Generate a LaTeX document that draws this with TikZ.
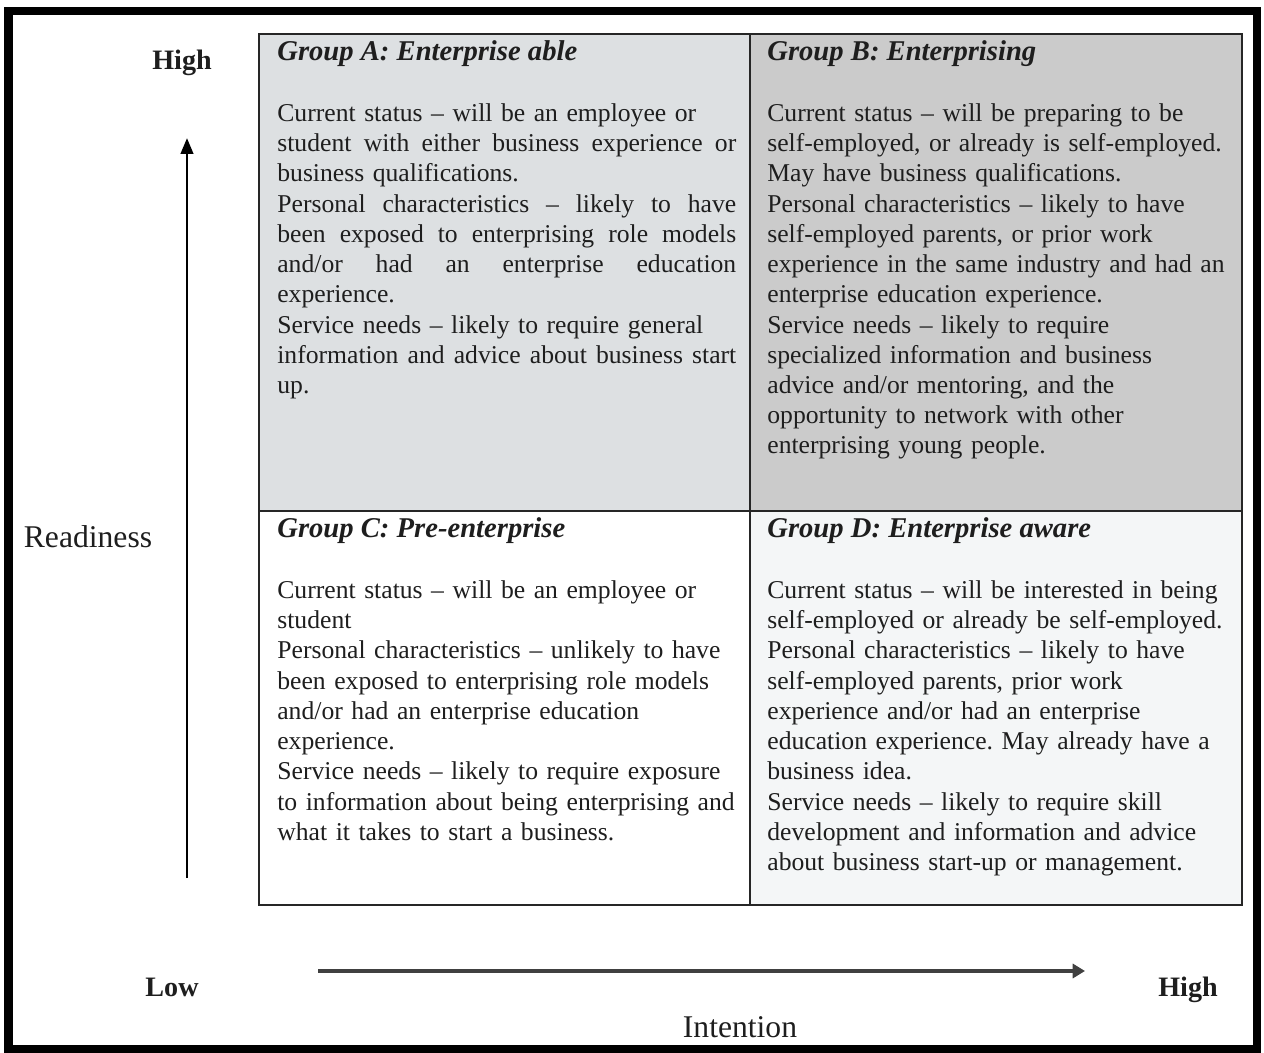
\documentclass[tikz,border=0pt]{standalone}
\usepackage{fontspec}
\setmainfont{Liberation Serif}
\usetikzlibrary{arrows.meta}
\definecolor{fillA}{RGB}{221,224,226}
\definecolor{fillB}{RGB}{203,203,203}
\definecolor{fillD}{RGB}{244,246,247}
\definecolor{ink}{RGB}{30,30,30}
\newcommand{\jline}[1]{\leavevmode\hbox to 9.18cm{\spaceskip=0.25em plus 3em\relax #1}}
\frenchspacing

\begin{document}
\begin{tikzpicture}[x=0.02cm, y=-0.02cm, text=ink]
            \tikzstyle{title} = [anchor=base west, inner sep=0pt, font=\fontsize{16.3}{19}\selectfont\bfseries\itshape]
            \tikzstyle{body} = [anchor=base west, inner sep=0pt, text width=10.5cm, align=left, font=\fontsize{14.6}{17.2}\selectfont\frenchspacing]
            \tikzstyle{axis} = [inner sep=0pt, font=\fontsize{18}{20}\selectfont]
            \tikzstyle{level} = [anchor=base, inner sep=0pt, font=\fontsize{16}{19}\selectfont\bfseries]

            \useasboundingbox (0,0) rectangle (1264,1053);

            \fill[fillA] (259,34) rectangle (750,511);
            \fill[fillB] (750,34) rectangle (1242,511);
            \fill[fillD] (750,511) rectangle (1242,905);
            \draw[line width=0.9pt, black!85] (259,34) rectangle (1242,905);
            \draw[line width=0.9pt, black!85] (750,34) -- (750,905);
            \draw[line width=1.1pt, black!85] (259,511) -- (1242,511);
            \draw[line width=4.8pt] (8.5,11) rectangle (1257,1049);

            \node[title] (ta) at (277,61) {Group A: Enterprise able};
            \node[title] (tb) at (767,61) {Group B: Enterprising};
            \node[title] (tc) at (277,538) {Group C: Pre-enterprise};
            \node[title] (td) at (767,538) {Group D: Enterprise aware};

            \node[body] (a) at (277,121.5) {Current status -- will be an employee or\\
              \jline{student with either business experience or}\\
              business qualifications.\\
              \jline{Personal characteristics -- likely to have}\\
              \jline{been exposed to enterprising role models}\\
              \jline{and/or had an enterprise education}\\
              experience.\\
              Service needs -- likely to require general\\
              \jline{information and advice about business start}\\
              up.};
            \node[body] (b) at (767,121.5) {Current status -- will be preparing to be\\
              self-employed, or already is self-employed.\\
              May have business qualifications.\\
              Personal characteristics -- likely to have\\
              self-employed parents, or prior work\\
              experience in the same industry and had an\\
              enterprise education experience.\\
              Service needs -- likely to require\\
              specialized information and business\\
              advice and/or mentoring, and the\\
              opportunity to network with other\\
              enterprising young people.};
            \node[body] (c) at (277,598.5) {Current status -- will be an employee or\\
              student\\
              Personal characteristics -- unlikely to have\\
              been exposed to enterprising role models\\
              and/or had an enterprise education\\
              experience.\\
              Service needs -- likely to require exposure\\
              to information about being enterprising and\\
              what it takes to start a business.};
            \node[body] (d) at (767,598.5) {Current status -- will be interested in being\\
              self-employed or already be self-employed.\\
              Personal characteristics -- likely to have\\
              self-employed parents, prior work\\
              experience and/or had an enterprise\\
              education experience. May already have a\\
              business idea.\\
              Service needs -- likely to require skill\\
              development and information and advice\\
              about business start-up or management.};

            \node[level] (hi) at (182,70) {High};
            \node[axis] (ready) at (88,537) {Readiness};
            \node[level] (lo) at (172,996) {Low};
            \node[level] (hi2) at (1188,996) {High};
            \node[axis] (intent) at (740,1027) {Intention};

            \coordinate (v0) at (187,878);
            \coordinate (v1) at (187,138);
            \coordinate (h0) at (318,971);
            \coordinate (h1) at (1085,971);

            \draw [-{Triangle[length=9pt,width=7pt]}, line width=1.6pt, black] (v0) -- (v1);
            \draw [-{Triangle[length=7pt,width=8pt]}, line width=2.2pt, black!75] (h0) -- (h1);
          \end{tikzpicture}
\end{document}
